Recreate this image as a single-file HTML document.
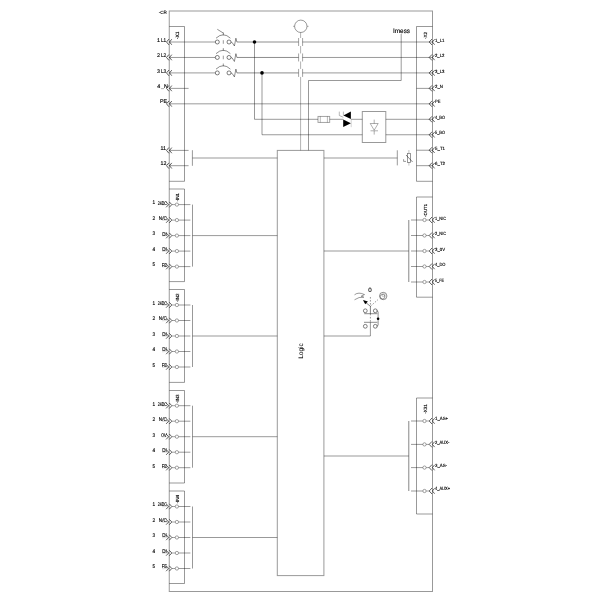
<!DOCTYPE html>
<html><head><meta charset="utf-8"><style>
html,body{margin:0;padding:0;background:#fff;width:600px;height:600px;overflow:hidden}
svg{display:block;filter:grayscale(1)}
text{font-family:"Liberation Sans",sans-serif;text-rendering:geometricPrecision;stroke:#000;stroke-width:0.14px}
</style></head><body>
<svg width="600" height="600" viewBox="0 0 600 600">
<rect x="169.25" y="11.00" width="263.25" height="580.50" fill="none" stroke="#000" stroke-opacity="0.4" stroke-width="1"/>
<text x="166.80" y="14.40" font-size="4.6" text-anchor="end" fill="#000" style="stroke-width:0.1px">-CR</text>
<polyline points="169.25,26.50 184.50,26.50 184.50,181.30 169.25,181.30" fill="none" stroke="#000" stroke-opacity="0.4" stroke-width="1"/>
<polyline points="432.50,26.50 416.50,26.50 416.50,181.30 432.50,181.30" fill="none" stroke="#000" stroke-opacity="0.4" stroke-width="1"/>
<text x="178.90" y="39.20" font-size="4.9" text-anchor="start" fill="#000" transform="rotate(-90 178.90 39.20)">-X1</text>
<text x="426.80" y="38.90" font-size="4.5" text-anchor="start" fill="#000" transform="rotate(-90 426.80 38.90)">-X2</text>
<polyline points="168.90,39.10 166.50,42.00 168.90,44.90" fill="none" stroke="#000" stroke-opacity="0.7" stroke-width="0.9"/>
<polyline points="171.80,39.20 169.50,42.00 171.80,44.80" fill="none" stroke="#000" stroke-opacity="0.7" stroke-width="0.9"/>
<polyline points="168.90,54.56 166.50,57.46 168.90,60.36" fill="none" stroke="#000" stroke-opacity="0.7" stroke-width="0.9"/>
<polyline points="171.80,54.66 169.50,57.46 171.80,60.26" fill="none" stroke="#000" stroke-opacity="0.7" stroke-width="0.9"/>
<polyline points="168.90,70.02 166.50,72.92 168.90,75.82" fill="none" stroke="#000" stroke-opacity="0.7" stroke-width="0.9"/>
<polyline points="171.80,70.12 169.50,72.92 171.80,75.72" fill="none" stroke="#000" stroke-opacity="0.7" stroke-width="0.9"/>
<polyline points="168.90,85.48 166.50,88.38 168.90,91.28" fill="none" stroke="#000" stroke-opacity="0.7" stroke-width="0.9"/>
<polyline points="171.80,85.58 169.50,88.38 171.80,91.18" fill="none" stroke="#000" stroke-opacity="0.7" stroke-width="0.9"/>
<polyline points="168.90,100.94 166.50,103.84 168.90,106.74" fill="none" stroke="#000" stroke-opacity="0.7" stroke-width="0.9"/>
<polyline points="171.80,101.04 169.50,103.84 171.80,106.64" fill="none" stroke="#000" stroke-opacity="0.7" stroke-width="0.9"/>
<polyline points="168.90,147.50 166.50,150.40 168.90,153.30" fill="none" stroke="#000" stroke-opacity="0.7" stroke-width="0.9"/>
<polyline points="171.80,147.60 169.50,150.40 171.80,153.20" fill="none" stroke="#000" stroke-opacity="0.7" stroke-width="0.9"/>
<polyline points="168.90,162.80 166.50,165.70 168.90,168.60" fill="none" stroke="#000" stroke-opacity="0.7" stroke-width="0.9"/>
<polyline points="171.80,162.90 169.50,165.70 171.80,168.50" fill="none" stroke="#000" stroke-opacity="0.7" stroke-width="0.9"/>
<text x="157.00" y="41.80" font-size="5.3" text-anchor="start" fill="#000">1</text>
<text x="161.00" y="41.80" font-size="5.3" text-anchor="start" fill="#000" textLength="5.2" lengthAdjust="spacingAndGlyphs">L1</text>
<text x="157.00" y="57.26" font-size="5.3" text-anchor="start" fill="#000">2</text>
<text x="161.00" y="57.26" font-size="5.3" text-anchor="start" fill="#000" textLength="5.2" lengthAdjust="spacingAndGlyphs">L2</text>
<text x="157.00" y="72.72" font-size="5.3" text-anchor="start" fill="#000">3</text>
<text x="161.00" y="72.72" font-size="5.3" text-anchor="start" fill="#000" textLength="5.2" lengthAdjust="spacingAndGlyphs">L3</text>
<text x="157.20" y="87.88" font-size="5.3" text-anchor="start" fill="#000">4</text>
<text x="161.00" y="87.88" font-size="5.3" text-anchor="start" fill="#000">_N</text>
<text x="160.00" y="103.24" font-size="5.3" text-anchor="start" fill="#000">PE</text>
<text x="160.50" y="150.00" font-size="5.3" text-anchor="start" fill="#000">11</text>
<text x="160.50" y="165.30" font-size="5.3" text-anchor="start" fill="#000">12</text>
<polyline points="432.00,39.00 429.20,42.00 432.00,45.00" fill="none" stroke="#000" stroke-opacity="0.7" stroke-width="0.9"/>
<polyline points="434.60,39.30 432.40,42.00 434.60,44.70" fill="none" stroke="#000" stroke-opacity="0.7" stroke-width="0.9"/>
<polyline points="432.00,54.46 429.20,57.46 432.00,60.46" fill="none" stroke="#000" stroke-opacity="0.7" stroke-width="0.9"/>
<polyline points="434.60,54.76 432.40,57.46 434.60,60.16" fill="none" stroke="#000" stroke-opacity="0.7" stroke-width="0.9"/>
<polyline points="432.00,69.92 429.20,72.92 432.00,75.92" fill="none" stroke="#000" stroke-opacity="0.7" stroke-width="0.9"/>
<polyline points="434.60,70.22 432.40,72.92 434.60,75.62" fill="none" stroke="#000" stroke-opacity="0.7" stroke-width="0.9"/>
<polyline points="432.00,85.38 429.20,88.38 432.00,91.38" fill="none" stroke="#000" stroke-opacity="0.7" stroke-width="0.9"/>
<polyline points="434.60,85.68 432.40,88.38 434.60,91.08" fill="none" stroke="#000" stroke-opacity="0.7" stroke-width="0.9"/>
<polyline points="432.00,100.84 429.20,103.84 432.00,106.84" fill="none" stroke="#000" stroke-opacity="0.7" stroke-width="0.9"/>
<polyline points="434.60,101.14 432.40,103.84 434.60,106.54" fill="none" stroke="#000" stroke-opacity="0.7" stroke-width="0.9"/>
<polyline points="432.00,116.30 429.20,119.30 432.00,122.30" fill="none" stroke="#000" stroke-opacity="0.7" stroke-width="0.9"/>
<polyline points="434.60,116.60 432.40,119.30 434.60,122.00" fill="none" stroke="#000" stroke-opacity="0.7" stroke-width="0.9"/>
<polyline points="432.00,131.76 429.20,134.76 432.00,137.76" fill="none" stroke="#000" stroke-opacity="0.7" stroke-width="0.9"/>
<polyline points="434.60,132.06 432.40,134.76 434.60,137.46" fill="none" stroke="#000" stroke-opacity="0.7" stroke-width="0.9"/>
<polyline points="432.00,147.22 429.20,150.22 432.00,153.22" fill="none" stroke="#000" stroke-opacity="0.7" stroke-width="0.9"/>
<polyline points="434.60,147.52 432.40,150.22 434.60,152.92" fill="none" stroke="#000" stroke-opacity="0.7" stroke-width="0.9"/>
<polyline points="432.00,162.68 429.20,165.68 432.00,168.68" fill="none" stroke="#000" stroke-opacity="0.7" stroke-width="0.9"/>
<polyline points="434.60,162.98 432.40,165.68 434.60,168.38" fill="none" stroke="#000" stroke-opacity="0.7" stroke-width="0.9"/>
<text x="435.00" y="41.60" font-size="4.5" text-anchor="start" fill="#000" textLength="9.5" lengthAdjust="spacingAndGlyphs">1_L1</text>
<text x="435.00" y="57.06" font-size="4.5" text-anchor="start" fill="#000" textLength="9.5" lengthAdjust="spacingAndGlyphs">2_L2</text>
<text x="435.00" y="72.52" font-size="4.5" text-anchor="start" fill="#000" textLength="9.5" lengthAdjust="spacingAndGlyphs">3_L3</text>
<text x="435.00" y="87.98" font-size="4.5" text-anchor="start" fill="#000" textLength="8.0" lengthAdjust="spacingAndGlyphs">2_N</text>
<text x="435.00" y="103.44" font-size="4.5" text-anchor="start" fill="#000" textLength="5.5" lengthAdjust="spacingAndGlyphs">PE</text>
<text x="435.00" y="118.90" font-size="4.5" text-anchor="start" fill="#000" textLength="10.0" lengthAdjust="spacingAndGlyphs">4_BO</text>
<text x="435.00" y="134.36" font-size="4.5" text-anchor="start" fill="#000" textLength="10.0" lengthAdjust="spacingAndGlyphs">5_BO</text>
<text x="435.00" y="149.82" font-size="4.5" text-anchor="start" fill="#000" textLength="10.0" lengthAdjust="spacingAndGlyphs">5_T1</text>
<text x="435.00" y="165.28" font-size="4.5" text-anchor="start" fill="#000" textLength="10.0" lengthAdjust="spacingAndGlyphs">6_T2</text>
<line x1="169.25" y1="42.00" x2="215.30" y2="42.00" stroke="#000" stroke-opacity="0.4" stroke-width="1"/>
<circle cx="217.30" cy="42.00" r="2.00" fill="none" stroke="#000" stroke-opacity="0.5" stroke-width="1.0"/>
<circle cx="229.00" cy="42.00" r="2.00" fill="none" stroke="#000" stroke-opacity="0.5" stroke-width="1.0"/>
<polyline points="231.00,42.00 232.20,42.60 234.40,46.00 235.90,38.20 236.90,42.00 298.50,42.00" fill="none" stroke="#000" stroke-opacity="0.45" stroke-width="1.0"/>
<line x1="302.50" y1="42.00" x2="432.50" y2="42.00" stroke="#000" stroke-opacity="0.4" stroke-width="1"/>
<line x1="298.60" y1="38.00" x2="298.60" y2="46.00" stroke="#000" stroke-opacity="0.36" stroke-width="1"/>
<line x1="302.60" y1="38.00" x2="302.60" y2="46.00" stroke="#000" stroke-opacity="0.36" stroke-width="1"/>
<path d="M216.0,38.20 Q223.3,31.40 230.4,38.20" fill="none" stroke="#000" stroke-opacity="0.5" stroke-width="0.9"/>
<line x1="223.30" y1="32.60" x2="223.30" y2="35.40" stroke="#000" stroke-opacity="0.45" stroke-width="0.9"/>
<line x1="223.30" y1="40.20" x2="223.30" y2="43.80" stroke="#000" stroke-opacity="0.45" stroke-width="0.9"/>
<line x1="169.25" y1="57.46" x2="215.30" y2="57.46" stroke="#000" stroke-opacity="0.4" stroke-width="1"/>
<circle cx="217.30" cy="57.46" r="2.00" fill="none" stroke="#000" stroke-opacity="0.5" stroke-width="1.0"/>
<circle cx="229.00" cy="57.46" r="2.00" fill="none" stroke="#000" stroke-opacity="0.5" stroke-width="1.0"/>
<polyline points="231.00,57.46 232.20,58.06 234.40,61.46 235.90,53.66 236.90,57.46 298.50,57.46" fill="none" stroke="#000" stroke-opacity="0.45" stroke-width="1.0"/>
<line x1="302.50" y1="57.46" x2="432.50" y2="57.46" stroke="#000" stroke-opacity="0.4" stroke-width="1"/>
<line x1="298.60" y1="53.46" x2="298.60" y2="61.46" stroke="#000" stroke-opacity="0.36" stroke-width="1"/>
<line x1="302.60" y1="53.46" x2="302.60" y2="61.46" stroke="#000" stroke-opacity="0.36" stroke-width="1"/>
<path d="M216.0,53.66 Q223.3,46.86 230.4,53.66" fill="none" stroke="#000" stroke-opacity="0.5" stroke-width="0.9"/>
<line x1="223.30" y1="48.06" x2="223.30" y2="50.86" stroke="#000" stroke-opacity="0.45" stroke-width="0.9"/>
<line x1="223.30" y1="55.66" x2="223.30" y2="59.26" stroke="#000" stroke-opacity="0.45" stroke-width="0.9"/>
<line x1="169.25" y1="72.92" x2="215.30" y2="72.92" stroke="#000" stroke-opacity="0.4" stroke-width="1"/>
<circle cx="217.30" cy="72.92" r="2.00" fill="none" stroke="#000" stroke-opacity="0.5" stroke-width="1.0"/>
<circle cx="229.00" cy="72.92" r="2.00" fill="none" stroke="#000" stroke-opacity="0.5" stroke-width="1.0"/>
<polyline points="231.00,72.92 232.20,73.52 234.40,76.92 235.90,69.12 236.90,72.92 298.50,72.92" fill="none" stroke="#000" stroke-opacity="0.45" stroke-width="1.0"/>
<line x1="302.50" y1="72.92" x2="432.50" y2="72.92" stroke="#000" stroke-opacity="0.4" stroke-width="1"/>
<line x1="298.60" y1="68.92" x2="298.60" y2="76.92" stroke="#000" stroke-opacity="0.36" stroke-width="1"/>
<line x1="302.60" y1="68.92" x2="302.60" y2="76.92" stroke="#000" stroke-opacity="0.36" stroke-width="1"/>
<path d="M216.0,69.12 Q223.3,62.32 230.4,69.12" fill="none" stroke="#000" stroke-opacity="0.5" stroke-width="0.9"/>
<line x1="223.30" y1="63.52" x2="223.30" y2="66.32" stroke="#000" stroke-opacity="0.45" stroke-width="0.9"/>
<line x1="217.30" y1="29.30" x2="223.70" y2="33.30" stroke="#000" stroke-opacity="0.5" stroke-width="0.9"/>
<line x1="300.60" y1="32.50" x2="300.60" y2="38.00" stroke="#000" stroke-opacity="0.3" stroke-width="1"/>
<line x1="300.60" y1="46.00" x2="300.60" y2="53.46" stroke="#000" stroke-opacity="0.3" stroke-width="1"/>
<line x1="300.60" y1="61.46" x2="300.60" y2="68.92" stroke="#000" stroke-opacity="0.3" stroke-width="1"/>
<line x1="300.60" y1="76.92" x2="300.60" y2="150.40" stroke="#000" stroke-opacity="0.3" stroke-width="1"/>
<circle cx="300.80" cy="26.30" r="6.20" fill="none" stroke="#000" stroke-opacity="0.4" stroke-width="1"/>
<line x1="293.00" y1="26.30" x2="294.60" y2="26.30" stroke="#000" stroke-opacity="0.4" stroke-width="0.8"/>
<line x1="307.00" y1="26.30" x2="308.60" y2="26.30" stroke="#000" stroke-opacity="0.4" stroke-width="0.8"/>
<line x1="169.25" y1="88.38" x2="188.60" y2="88.38" stroke="#000" stroke-opacity="0.4" stroke-width="1"/>
<line x1="416.50" y1="88.38" x2="432.50" y2="88.38" stroke="#000" stroke-opacity="0.4" stroke-width="1"/>
<line x1="169.25" y1="103.84" x2="432.50" y2="103.84" stroke="#000" stroke-opacity="0.4" stroke-width="1"/>
<circle cx="254.50" cy="42.00" r="1.80" fill="#000"/>
<circle cx="262.00" cy="72.92" r="1.80" fill="#000"/>
<polyline points="254.50,42.00 254.50,119.30 318.00,119.30" fill="none" stroke="#000" stroke-opacity="0.4" stroke-width="1"/>
<polyline points="262.00,72.92 262.00,134.76 362.30,134.76" fill="none" stroke="#000" stroke-opacity="0.4" stroke-width="1"/>
<rect x="318.00" y="116.40" width="11.70" height="6.00" fill="none" stroke="#000" stroke-opacity="0.4" stroke-width="0.9"/>
<line x1="320.30" y1="116.40" x2="320.30" y2="122.40" stroke="#000" stroke-opacity="0.4" stroke-width="0.7"/>
<line x1="327.40" y1="116.40" x2="327.40" y2="122.40" stroke="#000" stroke-opacity="0.4" stroke-width="0.7"/>
<line x1="329.70" y1="119.30" x2="343.20" y2="119.30" stroke="#000" stroke-opacity="0.4" stroke-width="1"/>
<polygon points="350.90,111.60 350.90,119.00 343.40,115.40" fill="#000"/>
<polygon points="343.20,119.60 343.20,127.00 350.90,123.30" fill="#000"/>
<polyline points="339.30,111.60 339.30,115.50 343.40,117.30" fill="none" stroke="#000" stroke-opacity="0.4" stroke-width="0.7"/>
<line x1="343.40" y1="111.60" x2="343.40" y2="115.50" stroke="#000" stroke-opacity="0.4" stroke-width="0.7"/>
<line x1="351.20" y1="119.40" x2="351.20" y2="127.20" stroke="#000" stroke-opacity="0.25" stroke-width="0.7"/>
<line x1="350.90" y1="119.30" x2="362.30" y2="119.30" stroke="#000" stroke-opacity="0.4" stroke-width="1"/>
<rect x="362.30" y="111.50" width="23.50" height="31.00" fill="none" stroke="#000" stroke-opacity="0.4" stroke-width="1"/>
<polygon points="370.2,123.5 378.2,123.5 374.2,130.2" fill="none" stroke="#000" stroke-opacity="0.4" stroke-width="0.8"/>
<line x1="370.50" y1="130.80" x2="378.00" y2="130.80" stroke="#000" stroke-opacity="0.4" stroke-width="0.8"/>
<line x1="374.20" y1="119.60" x2="374.20" y2="123.50" stroke="#000" stroke-opacity="0.4" stroke-width="0.8"/>
<line x1="374.20" y1="130.80" x2="374.20" y2="134.60" stroke="#000" stroke-opacity="0.4" stroke-width="0.8"/>
<line x1="385.80" y1="119.30" x2="432.50" y2="119.30" stroke="#000" stroke-opacity="0.4" stroke-width="1"/>
<line x1="385.80" y1="134.76" x2="432.50" y2="134.76" stroke="#000" stroke-opacity="0.4" stroke-width="1"/>
<line x1="416.50" y1="150.22" x2="432.50" y2="150.22" stroke="#000" stroke-opacity="0.4" stroke-width="1"/>
<line x1="416.50" y1="165.68" x2="432.50" y2="165.68" stroke="#000" stroke-opacity="0.4" stroke-width="1"/>
<text x="393.00" y="32.60" font-size="6.4" text-anchor="start" fill="#000">Imess</text>
<polyline points="401.20,34.00 401.20,80.50 308.50,80.50 308.50,150.40" fill="none" stroke="#000" stroke-opacity="0.4" stroke-width="1"/>
<rect x="277.30" y="150.40" width="46.60" height="425.20" fill="none" stroke="#000" stroke-opacity="0.4" stroke-width="1"/>
<text x="302.70" y="351.00" font-size="6.5" text-anchor="middle" fill="#000" transform="rotate(-90 302.70 351.00)" style="stroke-width:0.05px">Logic</text>
<line x1="169.25" y1="150.40" x2="188.60" y2="150.40" stroke="#000" stroke-opacity="0.4" stroke-width="1"/>
<line x1="169.25" y1="165.70" x2="188.60" y2="165.70" stroke="#000" stroke-opacity="0.4" stroke-width="1"/>
<line x1="192.40" y1="150.20" x2="192.40" y2="165.80" stroke="#000" stroke-opacity="0.4" stroke-width="1"/>
<line x1="192.40" y1="158.00" x2="277.30" y2="158.00" stroke="#000" stroke-opacity="0.4" stroke-width="1"/>
<line x1="323.90" y1="158.00" x2="397.30" y2="158.00" stroke="#000" stroke-opacity="0.4" stroke-width="1"/>
<line x1="397.30" y1="150.30" x2="397.30" y2="165.40" stroke="#000" stroke-opacity="0.4" stroke-width="1"/>
<rect x="407.50" y="153.50" width="3.00" height="9.00" fill="none" stroke="#000" stroke-opacity="0.5" stroke-width="0.8"/>
<line x1="408.90" y1="150.00" x2="408.90" y2="153.20" stroke="#000" stroke-opacity="0.3" stroke-width="0.8"/>
<line x1="408.90" y1="162.40" x2="408.90" y2="165.60" stroke="#000" stroke-opacity="0.3" stroke-width="0.8"/>
<line x1="406.00" y1="155.00" x2="412.60" y2="162.00" stroke="#000" stroke-opacity="0.6" stroke-width="0.8"/>
<polyline points="403.60,159.20 403.60,161.40 406.00,161.40" fill="none" stroke="#000" stroke-opacity="0.5" stroke-width="0.8"/>
<polyline points="169.25,189.00 184.50,189.00 184.50,281.60 169.25,281.60" fill="none" stroke="#000" stroke-opacity="0.4" stroke-width="1"/>
<text x="178.80" y="201.50" font-size="4.5" text-anchor="start" fill="#000" transform="rotate(-90 178.80 201.50)">-IN1</text>
<polyline points="166.10,201.90 168.70,204.60 166.10,207.30" fill="none" stroke="#000" stroke-opacity="0.7" stroke-width="0.9"/>
<polyline points="169.30,201.90 171.80,204.60 169.30,207.30" fill="none" stroke="#000" stroke-opacity="0.7" stroke-width="0.9"/>
<line x1="172.00" y1="204.60" x2="175.20" y2="204.60" stroke="#000" stroke-opacity="0.4" stroke-width="0.9"/>
<circle cx="176.90" cy="204.60" r="1.65" fill="none" stroke="#000" stroke-opacity="0.4" stroke-width="0.9"/>
<line x1="178.60" y1="204.60" x2="190.40" y2="204.60" stroke="#000" stroke-opacity="0.4" stroke-width="1"/>
<text x="152.60" y="204.40" font-size="5.3" text-anchor="start" fill="#000" textLength="2.6" lengthAdjust="spacingAndGlyphs">1</text>
<text x="157.80" y="204.50" font-size="5.3" text-anchor="start" fill="#000" textLength="9.0" lengthAdjust="spacingAndGlyphs">24DC</text>
<line x1="162.00" y1="204.90" x2="168.70" y2="204.60" stroke="#000" stroke-opacity="0.2" stroke-width="0.7"/>
<polyline points="166.10,217.40 168.70,220.10 166.10,222.80" fill="none" stroke="#000" stroke-opacity="0.7" stroke-width="0.9"/>
<polyline points="169.30,217.40 171.80,220.10 169.30,222.80" fill="none" stroke="#000" stroke-opacity="0.7" stroke-width="0.9"/>
<line x1="172.00" y1="220.10" x2="175.20" y2="220.10" stroke="#000" stroke-opacity="0.4" stroke-width="0.9"/>
<circle cx="176.90" cy="220.10" r="1.65" fill="none" stroke="#000" stroke-opacity="0.4" stroke-width="0.9"/>
<line x1="178.60" y1="220.10" x2="190.40" y2="220.10" stroke="#000" stroke-opacity="0.4" stroke-width="1"/>
<text x="152.60" y="219.90" font-size="5.3" text-anchor="start" fill="#000" textLength="2.6" lengthAdjust="spacingAndGlyphs">2</text>
<text x="158.80" y="220.00" font-size="5.3" text-anchor="start" fill="#000" textLength="8.0" lengthAdjust="spacingAndGlyphs">N/C</text>
<line x1="162.00" y1="220.40" x2="168.70" y2="220.10" stroke="#000" stroke-opacity="0.2" stroke-width="0.7"/>
<polyline points="166.10,232.90 168.70,235.60 166.10,238.30" fill="none" stroke="#000" stroke-opacity="0.7" stroke-width="0.9"/>
<polyline points="169.30,232.90 171.80,235.60 169.30,238.30" fill="none" stroke="#000" stroke-opacity="0.7" stroke-width="0.9"/>
<line x1="172.00" y1="235.60" x2="175.20" y2="235.60" stroke="#000" stroke-opacity="0.4" stroke-width="0.9"/>
<circle cx="176.90" cy="235.60" r="1.65" fill="none" stroke="#000" stroke-opacity="0.4" stroke-width="0.9"/>
<line x1="178.60" y1="235.60" x2="190.40" y2="235.60" stroke="#000" stroke-opacity="0.4" stroke-width="1"/>
<text x="152.60" y="235.40" font-size="5.3" text-anchor="start" fill="#000" textLength="2.6" lengthAdjust="spacingAndGlyphs">3</text>
<text x="162.30" y="235.50" font-size="5.3" text-anchor="start" fill="#000" textLength="4.5" lengthAdjust="spacingAndGlyphs">DI</text>
<line x1="162.00" y1="235.90" x2="168.70" y2="235.60" stroke="#000" stroke-opacity="0.2" stroke-width="0.7"/>
<polyline points="166.10,248.40 168.70,251.10 166.10,253.80" fill="none" stroke="#000" stroke-opacity="0.7" stroke-width="0.9"/>
<polyline points="169.30,248.40 171.80,251.10 169.30,253.80" fill="none" stroke="#000" stroke-opacity="0.7" stroke-width="0.9"/>
<line x1="172.00" y1="251.10" x2="175.20" y2="251.10" stroke="#000" stroke-opacity="0.4" stroke-width="0.9"/>
<circle cx="176.90" cy="251.10" r="1.65" fill="none" stroke="#000" stroke-opacity="0.4" stroke-width="0.9"/>
<line x1="178.60" y1="251.10" x2="190.40" y2="251.10" stroke="#000" stroke-opacity="0.4" stroke-width="1"/>
<text x="152.60" y="250.90" font-size="5.3" text-anchor="start" fill="#000" textLength="2.6" lengthAdjust="spacingAndGlyphs">4</text>
<text x="162.30" y="251.00" font-size="5.3" text-anchor="start" fill="#000" textLength="4.5" lengthAdjust="spacingAndGlyphs">DI</text>
<line x1="162.00" y1="251.40" x2="168.70" y2="251.10" stroke="#000" stroke-opacity="0.2" stroke-width="0.7"/>
<polyline points="166.10,263.90 168.70,266.60 166.10,269.30" fill="none" stroke="#000" stroke-opacity="0.7" stroke-width="0.9"/>
<polyline points="169.30,263.90 171.80,266.60 169.30,269.30" fill="none" stroke="#000" stroke-opacity="0.7" stroke-width="0.9"/>
<line x1="172.00" y1="266.60" x2="175.20" y2="266.60" stroke="#000" stroke-opacity="0.4" stroke-width="0.9"/>
<circle cx="176.90" cy="266.60" r="1.65" fill="none" stroke="#000" stroke-opacity="0.4" stroke-width="0.9"/>
<line x1="178.60" y1="266.60" x2="190.40" y2="266.60" stroke="#000" stroke-opacity="0.4" stroke-width="1"/>
<text x="152.60" y="266.40" font-size="5.3" text-anchor="start" fill="#000" textLength="2.6" lengthAdjust="spacingAndGlyphs">5</text>
<text x="161.80" y="266.50" font-size="5.3" text-anchor="start" fill="#000" textLength="5.0" lengthAdjust="spacingAndGlyphs">FE</text>
<line x1="162.00" y1="266.90" x2="168.70" y2="266.60" stroke="#000" stroke-opacity="0.2" stroke-width="0.7"/>
<line x1="192.50" y1="204.60" x2="192.50" y2="266.60" stroke="#000" stroke-opacity="0.4" stroke-width="1"/>
<line x1="192.50" y1="235.60" x2="277.30" y2="235.60" stroke="#000" stroke-opacity="0.4" stroke-width="1"/>
<polyline points="169.25,289.50 184.50,289.50 184.50,382.40 169.25,382.40" fill="none" stroke="#000" stroke-opacity="0.4" stroke-width="1"/>
<text x="178.80" y="302.00" font-size="4.5" text-anchor="start" fill="#000" transform="rotate(-90 178.80 302.00)">-IN2</text>
<polyline points="166.10,302.30 168.70,305.00 166.10,307.70" fill="none" stroke="#000" stroke-opacity="0.7" stroke-width="0.9"/>
<polyline points="169.30,302.30 171.80,305.00 169.30,307.70" fill="none" stroke="#000" stroke-opacity="0.7" stroke-width="0.9"/>
<line x1="172.00" y1="305.00" x2="175.20" y2="305.00" stroke="#000" stroke-opacity="0.4" stroke-width="0.9"/>
<circle cx="176.90" cy="305.00" r="1.65" fill="none" stroke="#000" stroke-opacity="0.4" stroke-width="0.9"/>
<line x1="178.60" y1="305.00" x2="190.40" y2="305.00" stroke="#000" stroke-opacity="0.4" stroke-width="1"/>
<text x="152.60" y="304.80" font-size="5.3" text-anchor="start" fill="#000" textLength="2.6" lengthAdjust="spacingAndGlyphs">1</text>
<text x="157.80" y="304.90" font-size="5.3" text-anchor="start" fill="#000" textLength="9.0" lengthAdjust="spacingAndGlyphs">24DC</text>
<line x1="162.00" y1="305.30" x2="168.70" y2="305.00" stroke="#000" stroke-opacity="0.2" stroke-width="0.7"/>
<polyline points="166.10,317.80 168.70,320.50 166.10,323.20" fill="none" stroke="#000" stroke-opacity="0.7" stroke-width="0.9"/>
<polyline points="169.30,317.80 171.80,320.50 169.30,323.20" fill="none" stroke="#000" stroke-opacity="0.7" stroke-width="0.9"/>
<line x1="172.00" y1="320.50" x2="175.20" y2="320.50" stroke="#000" stroke-opacity="0.4" stroke-width="0.9"/>
<circle cx="176.90" cy="320.50" r="1.65" fill="none" stroke="#000" stroke-opacity="0.4" stroke-width="0.9"/>
<line x1="178.60" y1="320.50" x2="190.40" y2="320.50" stroke="#000" stroke-opacity="0.4" stroke-width="1"/>
<text x="152.60" y="320.30" font-size="5.3" text-anchor="start" fill="#000" textLength="2.6" lengthAdjust="spacingAndGlyphs">2</text>
<text x="158.80" y="320.40" font-size="5.3" text-anchor="start" fill="#000" textLength="8.0" lengthAdjust="spacingAndGlyphs">N/C</text>
<line x1="162.00" y1="320.80" x2="168.70" y2="320.50" stroke="#000" stroke-opacity="0.2" stroke-width="0.7"/>
<polyline points="166.10,333.30 168.70,336.00 166.10,338.70" fill="none" stroke="#000" stroke-opacity="0.7" stroke-width="0.9"/>
<polyline points="169.30,333.30 171.80,336.00 169.30,338.70" fill="none" stroke="#000" stroke-opacity="0.7" stroke-width="0.9"/>
<line x1="172.00" y1="336.00" x2="175.20" y2="336.00" stroke="#000" stroke-opacity="0.4" stroke-width="0.9"/>
<circle cx="176.90" cy="336.00" r="1.65" fill="none" stroke="#000" stroke-opacity="0.4" stroke-width="0.9"/>
<line x1="178.60" y1="336.00" x2="190.40" y2="336.00" stroke="#000" stroke-opacity="0.4" stroke-width="1"/>
<text x="152.60" y="335.80" font-size="5.3" text-anchor="start" fill="#000" textLength="2.6" lengthAdjust="spacingAndGlyphs">3</text>
<text x="162.30" y="335.90" font-size="5.3" text-anchor="start" fill="#000" textLength="4.5" lengthAdjust="spacingAndGlyphs">DI</text>
<line x1="162.00" y1="336.30" x2="168.70" y2="336.00" stroke="#000" stroke-opacity="0.2" stroke-width="0.7"/>
<polyline points="166.10,348.80 168.70,351.50 166.10,354.20" fill="none" stroke="#000" stroke-opacity="0.7" stroke-width="0.9"/>
<polyline points="169.30,348.80 171.80,351.50 169.30,354.20" fill="none" stroke="#000" stroke-opacity="0.7" stroke-width="0.9"/>
<line x1="172.00" y1="351.50" x2="175.20" y2="351.50" stroke="#000" stroke-opacity="0.4" stroke-width="0.9"/>
<circle cx="176.90" cy="351.50" r="1.65" fill="none" stroke="#000" stroke-opacity="0.4" stroke-width="0.9"/>
<line x1="178.60" y1="351.50" x2="190.40" y2="351.50" stroke="#000" stroke-opacity="0.4" stroke-width="1"/>
<text x="152.60" y="351.30" font-size="5.3" text-anchor="start" fill="#000" textLength="2.6" lengthAdjust="spacingAndGlyphs">4</text>
<text x="162.30" y="351.40" font-size="5.3" text-anchor="start" fill="#000" textLength="4.5" lengthAdjust="spacingAndGlyphs">DI</text>
<line x1="162.00" y1="351.80" x2="168.70" y2="351.50" stroke="#000" stroke-opacity="0.2" stroke-width="0.7"/>
<polyline points="166.10,364.30 168.70,367.00 166.10,369.70" fill="none" stroke="#000" stroke-opacity="0.7" stroke-width="0.9"/>
<polyline points="169.30,364.30 171.80,367.00 169.30,369.70" fill="none" stroke="#000" stroke-opacity="0.7" stroke-width="0.9"/>
<line x1="172.00" y1="367.00" x2="175.20" y2="367.00" stroke="#000" stroke-opacity="0.4" stroke-width="0.9"/>
<circle cx="176.90" cy="367.00" r="1.65" fill="none" stroke="#000" stroke-opacity="0.4" stroke-width="0.9"/>
<line x1="178.60" y1="367.00" x2="190.40" y2="367.00" stroke="#000" stroke-opacity="0.4" stroke-width="1"/>
<text x="152.60" y="366.80" font-size="5.3" text-anchor="start" fill="#000" textLength="2.6" lengthAdjust="spacingAndGlyphs">5</text>
<text x="161.80" y="366.90" font-size="5.3" text-anchor="start" fill="#000" textLength="5.0" lengthAdjust="spacingAndGlyphs">FE</text>
<line x1="162.00" y1="367.30" x2="168.70" y2="367.00" stroke="#000" stroke-opacity="0.2" stroke-width="0.7"/>
<line x1="192.50" y1="305.00" x2="192.50" y2="367.00" stroke="#000" stroke-opacity="0.4" stroke-width="1"/>
<line x1="192.50" y1="336.00" x2="277.30" y2="336.00" stroke="#000" stroke-opacity="0.4" stroke-width="1"/>
<polyline points="169.25,390.50 184.50,390.50 184.50,483.00 169.25,483.00" fill="none" stroke="#000" stroke-opacity="0.4" stroke-width="1"/>
<text x="178.80" y="403.00" font-size="4.5" text-anchor="start" fill="#000" transform="rotate(-90 178.80 403.00)">-IN3</text>
<polyline points="166.10,403.00 168.70,405.70 166.10,408.40" fill="none" stroke="#000" stroke-opacity="0.7" stroke-width="0.9"/>
<polyline points="169.30,403.00 171.80,405.70 169.30,408.40" fill="none" stroke="#000" stroke-opacity="0.7" stroke-width="0.9"/>
<line x1="172.00" y1="405.70" x2="175.20" y2="405.70" stroke="#000" stroke-opacity="0.4" stroke-width="0.9"/>
<circle cx="176.90" cy="405.70" r="1.65" fill="none" stroke="#000" stroke-opacity="0.4" stroke-width="0.9"/>
<line x1="178.60" y1="405.70" x2="190.40" y2="405.70" stroke="#000" stroke-opacity="0.4" stroke-width="1"/>
<text x="152.60" y="405.50" font-size="5.3" text-anchor="start" fill="#000" textLength="2.6" lengthAdjust="spacingAndGlyphs">1</text>
<text x="157.80" y="405.60" font-size="5.3" text-anchor="start" fill="#000" textLength="9.0" lengthAdjust="spacingAndGlyphs">24DC</text>
<line x1="162.00" y1="406.00" x2="168.70" y2="405.70" stroke="#000" stroke-opacity="0.2" stroke-width="0.7"/>
<polyline points="166.10,418.50 168.70,421.20 166.10,423.90" fill="none" stroke="#000" stroke-opacity="0.7" stroke-width="0.9"/>
<polyline points="169.30,418.50 171.80,421.20 169.30,423.90" fill="none" stroke="#000" stroke-opacity="0.7" stroke-width="0.9"/>
<line x1="172.00" y1="421.20" x2="175.20" y2="421.20" stroke="#000" stroke-opacity="0.4" stroke-width="0.9"/>
<circle cx="176.90" cy="421.20" r="1.65" fill="none" stroke="#000" stroke-opacity="0.4" stroke-width="0.9"/>
<line x1="178.60" y1="421.20" x2="190.40" y2="421.20" stroke="#000" stroke-opacity="0.4" stroke-width="1"/>
<text x="152.60" y="421.00" font-size="5.3" text-anchor="start" fill="#000" textLength="2.6" lengthAdjust="spacingAndGlyphs">2</text>
<text x="158.80" y="421.10" font-size="5.3" text-anchor="start" fill="#000" textLength="8.0" lengthAdjust="spacingAndGlyphs">N/C</text>
<line x1="162.00" y1="421.50" x2="168.70" y2="421.20" stroke="#000" stroke-opacity="0.2" stroke-width="0.7"/>
<polyline points="166.10,434.00 168.70,436.70 166.10,439.40" fill="none" stroke="#000" stroke-opacity="0.7" stroke-width="0.9"/>
<polyline points="169.30,434.00 171.80,436.70 169.30,439.40" fill="none" stroke="#000" stroke-opacity="0.7" stroke-width="0.9"/>
<line x1="172.00" y1="436.70" x2="175.20" y2="436.70" stroke="#000" stroke-opacity="0.4" stroke-width="0.9"/>
<circle cx="176.90" cy="436.70" r="1.65" fill="none" stroke="#000" stroke-opacity="0.4" stroke-width="0.9"/>
<line x1="178.60" y1="436.70" x2="190.40" y2="436.70" stroke="#000" stroke-opacity="0.4" stroke-width="1"/>
<text x="152.60" y="436.50" font-size="5.3" text-anchor="start" fill="#000" textLength="2.6" lengthAdjust="spacingAndGlyphs">3</text>
<text x="161.30" y="436.60" font-size="5.3" text-anchor="start" fill="#000" textLength="5.5" lengthAdjust="spacingAndGlyphs">0V</text>
<line x1="162.00" y1="437.00" x2="168.70" y2="436.70" stroke="#000" stroke-opacity="0.2" stroke-width="0.7"/>
<polyline points="166.10,449.50 168.70,452.20 166.10,454.90" fill="none" stroke="#000" stroke-opacity="0.7" stroke-width="0.9"/>
<polyline points="169.30,449.50 171.80,452.20 169.30,454.90" fill="none" stroke="#000" stroke-opacity="0.7" stroke-width="0.9"/>
<line x1="172.00" y1="452.20" x2="175.20" y2="452.20" stroke="#000" stroke-opacity="0.4" stroke-width="0.9"/>
<circle cx="176.90" cy="452.20" r="1.65" fill="none" stroke="#000" stroke-opacity="0.4" stroke-width="0.9"/>
<line x1="178.60" y1="452.20" x2="190.40" y2="452.20" stroke="#000" stroke-opacity="0.4" stroke-width="1"/>
<text x="152.60" y="452.00" font-size="5.3" text-anchor="start" fill="#000" textLength="2.6" lengthAdjust="spacingAndGlyphs">4</text>
<text x="162.30" y="452.10" font-size="5.3" text-anchor="start" fill="#000" textLength="4.5" lengthAdjust="spacingAndGlyphs">DI</text>
<line x1="162.00" y1="452.50" x2="168.70" y2="452.20" stroke="#000" stroke-opacity="0.2" stroke-width="0.7"/>
<polyline points="166.10,465.00 168.70,467.70 166.10,470.40" fill="none" stroke="#000" stroke-opacity="0.7" stroke-width="0.9"/>
<polyline points="169.30,465.00 171.80,467.70 169.30,470.40" fill="none" stroke="#000" stroke-opacity="0.7" stroke-width="0.9"/>
<line x1="172.00" y1="467.70" x2="175.20" y2="467.70" stroke="#000" stroke-opacity="0.4" stroke-width="0.9"/>
<circle cx="176.90" cy="467.70" r="1.65" fill="none" stroke="#000" stroke-opacity="0.4" stroke-width="0.9"/>
<line x1="178.60" y1="467.70" x2="190.40" y2="467.70" stroke="#000" stroke-opacity="0.4" stroke-width="1"/>
<text x="152.60" y="467.50" font-size="5.3" text-anchor="start" fill="#000" textLength="2.6" lengthAdjust="spacingAndGlyphs">5</text>
<text x="161.80" y="467.60" font-size="5.3" text-anchor="start" fill="#000" textLength="5.0" lengthAdjust="spacingAndGlyphs">FE</text>
<line x1="162.00" y1="468.00" x2="168.70" y2="467.70" stroke="#000" stroke-opacity="0.2" stroke-width="0.7"/>
<line x1="192.50" y1="405.70" x2="192.50" y2="467.70" stroke="#000" stroke-opacity="0.4" stroke-width="1"/>
<line x1="192.50" y1="436.70" x2="277.30" y2="436.70" stroke="#000" stroke-opacity="0.4" stroke-width="1"/>
<polyline points="169.25,491.00 184.50,491.00 184.50,583.50 169.25,583.50" fill="none" stroke="#000" stroke-opacity="0.4" stroke-width="1"/>
<text x="178.80" y="503.50" font-size="4.5" text-anchor="start" fill="#000" transform="rotate(-90 178.80 503.50)">-IN4</text>
<polyline points="166.10,503.80 168.70,506.50 166.10,509.20" fill="none" stroke="#000" stroke-opacity="0.7" stroke-width="0.9"/>
<polyline points="169.30,503.80 171.80,506.50 169.30,509.20" fill="none" stroke="#000" stroke-opacity="0.7" stroke-width="0.9"/>
<line x1="172.00" y1="506.50" x2="175.20" y2="506.50" stroke="#000" stroke-opacity="0.4" stroke-width="0.9"/>
<circle cx="176.90" cy="506.50" r="1.65" fill="none" stroke="#000" stroke-opacity="0.4" stroke-width="0.9"/>
<line x1="178.60" y1="506.50" x2="190.40" y2="506.50" stroke="#000" stroke-opacity="0.4" stroke-width="1"/>
<text x="152.60" y="506.30" font-size="5.3" text-anchor="start" fill="#000" textLength="2.6" lengthAdjust="spacingAndGlyphs">1</text>
<text x="157.80" y="506.40" font-size="5.3" text-anchor="start" fill="#000" textLength="9.0" lengthAdjust="spacingAndGlyphs">24DC</text>
<line x1="162.00" y1="506.80" x2="168.70" y2="506.50" stroke="#000" stroke-opacity="0.2" stroke-width="0.7"/>
<polyline points="166.10,519.30 168.70,522.00 166.10,524.70" fill="none" stroke="#000" stroke-opacity="0.7" stroke-width="0.9"/>
<polyline points="169.30,519.30 171.80,522.00 169.30,524.70" fill="none" stroke="#000" stroke-opacity="0.7" stroke-width="0.9"/>
<line x1="172.00" y1="522.00" x2="175.20" y2="522.00" stroke="#000" stroke-opacity="0.4" stroke-width="0.9"/>
<circle cx="176.90" cy="522.00" r="1.65" fill="none" stroke="#000" stroke-opacity="0.4" stroke-width="0.9"/>
<line x1="178.60" y1="522.00" x2="190.40" y2="522.00" stroke="#000" stroke-opacity="0.4" stroke-width="1"/>
<text x="152.60" y="521.80" font-size="5.3" text-anchor="start" fill="#000" textLength="2.6" lengthAdjust="spacingAndGlyphs">2</text>
<text x="158.80" y="521.90" font-size="5.3" text-anchor="start" fill="#000" textLength="8.0" lengthAdjust="spacingAndGlyphs">N/C</text>
<line x1="162.00" y1="522.30" x2="168.70" y2="522.00" stroke="#000" stroke-opacity="0.2" stroke-width="0.7"/>
<polyline points="166.10,534.80 168.70,537.50 166.10,540.20" fill="none" stroke="#000" stroke-opacity="0.7" stroke-width="0.9"/>
<polyline points="169.30,534.80 171.80,537.50 169.30,540.20" fill="none" stroke="#000" stroke-opacity="0.7" stroke-width="0.9"/>
<line x1="172.00" y1="537.50" x2="175.20" y2="537.50" stroke="#000" stroke-opacity="0.4" stroke-width="0.9"/>
<circle cx="176.90" cy="537.50" r="1.65" fill="none" stroke="#000" stroke-opacity="0.4" stroke-width="0.9"/>
<line x1="178.60" y1="537.50" x2="190.40" y2="537.50" stroke="#000" stroke-opacity="0.4" stroke-width="1"/>
<text x="152.60" y="537.30" font-size="5.3" text-anchor="start" fill="#000" textLength="2.6" lengthAdjust="spacingAndGlyphs">3</text>
<text x="162.30" y="537.40" font-size="5.3" text-anchor="start" fill="#000" textLength="4.5" lengthAdjust="spacingAndGlyphs">DI</text>
<line x1="162.00" y1="537.80" x2="168.70" y2="537.50" stroke="#000" stroke-opacity="0.2" stroke-width="0.7"/>
<polyline points="166.10,550.30 168.70,553.00 166.10,555.70" fill="none" stroke="#000" stroke-opacity="0.7" stroke-width="0.9"/>
<polyline points="169.30,550.30 171.80,553.00 169.30,555.70" fill="none" stroke="#000" stroke-opacity="0.7" stroke-width="0.9"/>
<line x1="172.00" y1="553.00" x2="175.20" y2="553.00" stroke="#000" stroke-opacity="0.4" stroke-width="0.9"/>
<circle cx="176.90" cy="553.00" r="1.65" fill="none" stroke="#000" stroke-opacity="0.4" stroke-width="0.9"/>
<line x1="178.60" y1="553.00" x2="190.40" y2="553.00" stroke="#000" stroke-opacity="0.4" stroke-width="1"/>
<text x="152.60" y="552.80" font-size="5.3" text-anchor="start" fill="#000" textLength="2.6" lengthAdjust="spacingAndGlyphs">4</text>
<text x="162.30" y="552.90" font-size="5.3" text-anchor="start" fill="#000" textLength="4.5" lengthAdjust="spacingAndGlyphs">DI</text>
<line x1="162.00" y1="553.30" x2="168.70" y2="553.00" stroke="#000" stroke-opacity="0.2" stroke-width="0.7"/>
<polyline points="166.10,565.80 168.70,568.50 166.10,571.20" fill="none" stroke="#000" stroke-opacity="0.7" stroke-width="0.9"/>
<polyline points="169.30,565.80 171.80,568.50 169.30,571.20" fill="none" stroke="#000" stroke-opacity="0.7" stroke-width="0.9"/>
<line x1="172.00" y1="568.50" x2="175.20" y2="568.50" stroke="#000" stroke-opacity="0.4" stroke-width="0.9"/>
<circle cx="176.90" cy="568.50" r="1.65" fill="none" stroke="#000" stroke-opacity="0.4" stroke-width="0.9"/>
<line x1="178.60" y1="568.50" x2="190.40" y2="568.50" stroke="#000" stroke-opacity="0.4" stroke-width="1"/>
<text x="152.60" y="568.30" font-size="5.3" text-anchor="start" fill="#000" textLength="2.6" lengthAdjust="spacingAndGlyphs">5</text>
<text x="161.80" y="568.40" font-size="5.3" text-anchor="start" fill="#000" textLength="5.0" lengthAdjust="spacingAndGlyphs">FE</text>
<line x1="162.00" y1="568.80" x2="168.70" y2="568.50" stroke="#000" stroke-opacity="0.2" stroke-width="0.7"/>
<line x1="192.50" y1="506.50" x2="192.50" y2="568.50" stroke="#000" stroke-opacity="0.4" stroke-width="1"/>
<line x1="192.50" y1="537.50" x2="277.30" y2="537.50" stroke="#000" stroke-opacity="0.4" stroke-width="1"/>
<polyline points="432.50,197.00 416.50,197.00 416.50,297.20 432.50,297.20" fill="none" stroke="#000" stroke-opacity="0.4" stroke-width="1"/>
<text x="427.00" y="217.00" font-size="4.4" text-anchor="start" fill="#000" transform="rotate(-90 427.00 217.00)">-OUT1</text>
<polyline points="432.00,217.00 429.20,220.00 432.00,223.00" fill="none" stroke="#000" stroke-opacity="0.7" stroke-width="0.9"/>
<polyline points="434.60,217.30 432.40,220.00 434.60,222.70" fill="none" stroke="#000" stroke-opacity="0.7" stroke-width="0.9"/>
<circle cx="424.50" cy="220.00" r="1.65" fill="none" stroke="#000" stroke-opacity="0.4" stroke-width="0.9"/>
<line x1="426.20" y1="220.00" x2="429.20" y2="220.00" stroke="#000" stroke-opacity="0.4" stroke-width="0.9"/>
<line x1="411.00" y1="220.00" x2="422.80" y2="220.00" stroke="#000" stroke-opacity="0.4" stroke-width="1"/>
<text x="435.00" y="219.60" font-size="4.5" text-anchor="start" fill="#000" textLength="11.0" lengthAdjust="spacingAndGlyphs">1_N/C</text>
<polyline points="432.00,232.50 429.20,235.50 432.00,238.50" fill="none" stroke="#000" stroke-opacity="0.7" stroke-width="0.9"/>
<polyline points="434.60,232.80 432.40,235.50 434.60,238.20" fill="none" stroke="#000" stroke-opacity="0.7" stroke-width="0.9"/>
<circle cx="424.50" cy="235.50" r="1.65" fill="none" stroke="#000" stroke-opacity="0.4" stroke-width="0.9"/>
<line x1="426.20" y1="235.50" x2="429.20" y2="235.50" stroke="#000" stroke-opacity="0.4" stroke-width="0.9"/>
<line x1="411.00" y1="235.50" x2="422.80" y2="235.50" stroke="#000" stroke-opacity="0.4" stroke-width="1"/>
<text x="435.00" y="235.10" font-size="4.5" text-anchor="start" fill="#000" textLength="11.0" lengthAdjust="spacingAndGlyphs">2_N/C</text>
<polyline points="432.00,248.00 429.20,251.00 432.00,254.00" fill="none" stroke="#000" stroke-opacity="0.7" stroke-width="0.9"/>
<polyline points="434.60,248.30 432.40,251.00 434.60,253.70" fill="none" stroke="#000" stroke-opacity="0.7" stroke-width="0.9"/>
<circle cx="424.50" cy="251.00" r="1.65" fill="none" stroke="#000" stroke-opacity="0.4" stroke-width="0.9"/>
<line x1="426.20" y1="251.00" x2="429.20" y2="251.00" stroke="#000" stroke-opacity="0.4" stroke-width="0.9"/>
<line x1="411.00" y1="251.00" x2="422.80" y2="251.00" stroke="#000" stroke-opacity="0.4" stroke-width="1"/>
<text x="435.00" y="250.60" font-size="4.5" text-anchor="start" fill="#000" textLength="10.0" lengthAdjust="spacingAndGlyphs">3_0V</text>
<polyline points="432.00,263.50 429.20,266.50 432.00,269.50" fill="none" stroke="#000" stroke-opacity="0.7" stroke-width="0.9"/>
<polyline points="434.60,263.80 432.40,266.50 434.60,269.20" fill="none" stroke="#000" stroke-opacity="0.7" stroke-width="0.9"/>
<circle cx="424.50" cy="266.50" r="1.65" fill="none" stroke="#000" stroke-opacity="0.4" stroke-width="0.9"/>
<line x1="426.20" y1="266.50" x2="429.20" y2="266.50" stroke="#000" stroke-opacity="0.4" stroke-width="0.9"/>
<line x1="411.00" y1="266.50" x2="422.80" y2="266.50" stroke="#000" stroke-opacity="0.4" stroke-width="1"/>
<text x="435.00" y="266.10" font-size="4.5" text-anchor="start" fill="#000" textLength="10.5" lengthAdjust="spacingAndGlyphs">4_DO</text>
<polyline points="432.00,279.00 429.20,282.00 432.00,285.00" fill="none" stroke="#000" stroke-opacity="0.7" stroke-width="0.9"/>
<polyline points="434.60,279.30 432.40,282.00 434.60,284.70" fill="none" stroke="#000" stroke-opacity="0.7" stroke-width="0.9"/>
<circle cx="424.50" cy="282.00" r="1.65" fill="none" stroke="#000" stroke-opacity="0.4" stroke-width="0.9"/>
<line x1="426.20" y1="282.00" x2="429.20" y2="282.00" stroke="#000" stroke-opacity="0.4" stroke-width="0.9"/>
<line x1="411.00" y1="282.00" x2="422.80" y2="282.00" stroke="#000" stroke-opacity="0.4" stroke-width="1"/>
<text x="435.00" y="281.60" font-size="4.5" text-anchor="start" fill="#000" textLength="9.0" lengthAdjust="spacingAndGlyphs">5_FE</text>
<line x1="408.75" y1="220.00" x2="408.75" y2="282.00" stroke="#000" stroke-opacity="0.4" stroke-width="1.2"/>
<line x1="323.90" y1="251.00" x2="408.75" y2="251.00" stroke="#000" stroke-opacity="0.4" stroke-width="1"/>
<polyline points="432.50,398.00 416.50,398.00 416.50,514.00 432.50,514.00" fill="none" stroke="#000" stroke-opacity="0.4" stroke-width="1"/>
<text x="427.00" y="413.80" font-size="4.6" text-anchor="start" fill="#000" transform="rotate(-90 427.00 413.80)">-X31</text>
<polyline points="432.00,418.00 429.20,421.00 432.00,424.00" fill="none" stroke="#000" stroke-opacity="0.7" stroke-width="0.9"/>
<polyline points="434.60,418.30 432.40,421.00 434.60,423.70" fill="none" stroke="#000" stroke-opacity="0.7" stroke-width="0.9"/>
<circle cx="424.50" cy="421.00" r="1.65" fill="none" stroke="#000" stroke-opacity="0.4" stroke-width="0.9"/>
<line x1="426.20" y1="421.00" x2="429.20" y2="421.00" stroke="#000" stroke-opacity="0.4" stroke-width="0.9"/>
<line x1="411.00" y1="421.00" x2="422.80" y2="421.00" stroke="#000" stroke-opacity="0.4" stroke-width="1"/>
<text x="435.00" y="420.40" font-size="4.6" text-anchor="start" fill="#000" textLength="13.0" lengthAdjust="spacingAndGlyphs">1_AS+</text>
<polyline points="432.00,441.40 429.20,444.40 432.00,447.40" fill="none" stroke="#000" stroke-opacity="0.7" stroke-width="0.9"/>
<polyline points="434.60,441.70 432.40,444.40 434.60,447.10" fill="none" stroke="#000" stroke-opacity="0.7" stroke-width="0.9"/>
<circle cx="424.50" cy="444.40" r="1.65" fill="none" stroke="#000" stroke-opacity="0.4" stroke-width="0.9"/>
<line x1="426.20" y1="444.40" x2="429.20" y2="444.40" stroke="#000" stroke-opacity="0.4" stroke-width="0.9"/>
<line x1="411.00" y1="444.40" x2="422.80" y2="444.40" stroke="#000" stroke-opacity="0.4" stroke-width="1"/>
<text x="435.00" y="443.80" font-size="4.6" text-anchor="start" fill="#000" textLength="14.5" lengthAdjust="spacingAndGlyphs">2_AUX-</text>
<polyline points="432.00,464.60 429.20,467.60 432.00,470.60" fill="none" stroke="#000" stroke-opacity="0.7" stroke-width="0.9"/>
<polyline points="434.60,464.90 432.40,467.60 434.60,470.30" fill="none" stroke="#000" stroke-opacity="0.7" stroke-width="0.9"/>
<circle cx="424.50" cy="467.60" r="1.65" fill="none" stroke="#000" stroke-opacity="0.4" stroke-width="0.9"/>
<line x1="426.20" y1="467.60" x2="429.20" y2="467.60" stroke="#000" stroke-opacity="0.4" stroke-width="0.9"/>
<line x1="411.00" y1="467.60" x2="422.80" y2="467.60" stroke="#000" stroke-opacity="0.4" stroke-width="1"/>
<text x="435.00" y="467.00" font-size="4.6" text-anchor="start" fill="#000" textLength="12.0" lengthAdjust="spacingAndGlyphs">3_AS-</text>
<polyline points="432.00,488.00 429.20,491.00 432.00,494.00" fill="none" stroke="#000" stroke-opacity="0.7" stroke-width="0.9"/>
<polyline points="434.60,488.30 432.40,491.00 434.60,493.70" fill="none" stroke="#000" stroke-opacity="0.7" stroke-width="0.9"/>
<circle cx="424.50" cy="491.00" r="1.65" fill="none" stroke="#000" stroke-opacity="0.4" stroke-width="0.9"/>
<line x1="426.20" y1="491.00" x2="429.20" y2="491.00" stroke="#000" stroke-opacity="0.4" stroke-width="0.9"/>
<line x1="411.00" y1="491.00" x2="422.80" y2="491.00" stroke="#000" stroke-opacity="0.4" stroke-width="1"/>
<text x="435.00" y="490.40" font-size="4.6" text-anchor="start" fill="#000" textLength="15.0" lengthAdjust="spacingAndGlyphs">4_AUX+</text>
<line x1="408.75" y1="421.00" x2="408.75" y2="491.00" stroke="#000" stroke-opacity="0.4" stroke-width="1.2"/>
<line x1="323.90" y1="456.00" x2="408.75" y2="456.00" stroke="#000" stroke-opacity="0.4" stroke-width="1"/>
<text x="370.10" y="292.10" font-size="6.2" text-anchor="middle" fill="#000" style="stroke-width:0.1px">0</text>
<circle cx="383.20" cy="296.00" r="3.70" fill="none" stroke="#000" stroke-opacity="0.55" stroke-width="0.8"/>
<circle cx="382.60" cy="296.60" r="2.30" fill="none" stroke="#000" stroke-opacity="0.5" stroke-width="0.7"/>
<circle cx="383.60" cy="295.20" r="1.50" fill="none" stroke="#000" stroke-opacity="0.4" stroke-width="0.6"/>
<path d="M354.5,294.8 Q358.5,291.6 364.5,294.6 L361.2,296.2 L363.8,297.2 Q359,296.6 354.5,299.8" fill="none" stroke="#000" stroke-opacity="0.5" stroke-width="0.8"/>
<line x1="370.40" y1="297.00" x2="370.40" y2="306.30" stroke="#000" stroke-opacity="0.5" stroke-width="0.8" stroke-dasharray="1.6,1.4"/>
<line x1="370.40" y1="306.30" x2="378.00" y2="299.60" stroke="#000" stroke-opacity="0.5" stroke-width="0.8" stroke-dasharray="1.6,1.4"/>
<line x1="370.40" y1="306.30" x2="370.40" y2="313.70" stroke="#000" stroke-opacity="0.55" stroke-width="0.9"/>
<line x1="370.40" y1="313.70" x2="370.40" y2="322.30" stroke="#000" stroke-opacity="0.5" stroke-width="0.8" stroke-dasharray="1.6,1.6"/>
<line x1="370.40" y1="306.30" x2="365.40" y2="302.20" stroke="#000" stroke-opacity="0.6" stroke-width="0.8"/>
<polygon points="363.00,300.00 367.90,301.40 365.20,304.30" fill="#000"/>
<circle cx="365.30" cy="310.80" r="1.90" fill="none" stroke="#000" stroke-opacity="0.55" stroke-width="0.9"/>
<circle cx="375.30" cy="310.80" r="1.90" fill="none" stroke="#000" stroke-opacity="0.55" stroke-width="0.9"/>
<line x1="364.20" y1="313.70" x2="377.30" y2="313.70" stroke="#000" stroke-opacity="0.5" stroke-width="0.9"/>
<line x1="364.00" y1="322.30" x2="377.30" y2="322.30" stroke="#000" stroke-opacity="0.5" stroke-width="0.9"/>
<circle cx="365.30" cy="326.30" r="1.90" fill="none" stroke="#000" stroke-opacity="0.55" stroke-width="0.9"/>
<circle cx="375.30" cy="326.30" r="1.90" fill="none" stroke="#000" stroke-opacity="0.55" stroke-width="0.9"/>
<polyline points="377.00,310.40 378.10,312.00 378.10,325.00 377.00,326.60" fill="none" stroke="#000" stroke-opacity="0.5" stroke-width="0.9"/>
<circle cx="378.10" cy="318.70" r="1.30" fill="#000"/>
<polyline points="370.40,322.30 370.40,336.00 323.90,336.00" fill="none" stroke="#000" stroke-opacity="0.4" stroke-width="1"/>
</svg>
</body></html>
